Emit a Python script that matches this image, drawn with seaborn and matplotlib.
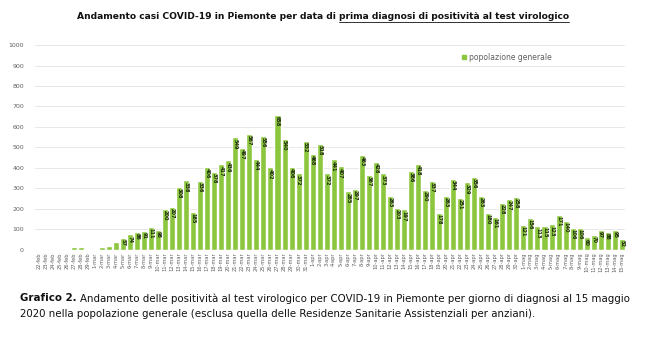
import matplotlib
matplotlib.use('Agg')
import pandas as pd
import seaborn as sns
from matplotlib import pyplot as plt
from matplotlib.lines import Line2D

# daily positives, popolazione generale (22-feb .. 15-mag)
days = ([f'{d}-feb' for d in range(22, 30)] + [f'{d}-mar' for d in range(1, 32)]
        + [f'{d}-apr' for d in range(1, 31)] + [f'{d}-mag' for d in range(1, 16)])
cases = [2, 1, 1, 2, 3, 12, 12, 4, 2, 12, 19, 38, 57, 74, 86, 91, 111, 98, 200, 207,
         308, 338, 185, 336, 406, 378, 417, 436, 549, 497, 567, 444, 556, 402, 658, 540,
         406, 372, 532, 468, 518, 372, 441, 407, 285, 297, 463, 367, 428, 373, 263, 203,
         197, 386, 418, 290, 337, 178, 263, 344, 251, 329, 356, 263, 180, 161, 228, 247,
         258, 121, 156, 113, 115, 123, 171, 140, 106, 106, 60, 70, 97, 88, 95, 52]
series_name = 'popolazione generale'

df = pd.DataFrame({'giorno': days, 'casi': cases})
green = '#8cc63f'

sns.set_style('white')
plt.rcParams['font.family'] = ['DejaVu Sans']

fig = plt.figure(figsize=(6.5, 3.52), dpi=100)
ax = fig.add_axes([0.054, 0.291, 0.908, 0.581])
sns.barplot(data=df, x='giorno', y='casi', color=green, width=0.86, saturation=1, ax=ax)

ax.set_xlim(-0.5, len(days) - 0.5)
ax.set_ylim(0, 1000)
ax.set_yticks(range(0, 1001, 100))
ax.yaxis.grid(True, color='#e4e4e4', linewidth=0.6)
ax.set_axisbelow(True)
for s in ax.spines.values():
    s.set_visible(False)
ax.axhline(0, color='#d0d0d0', linewidth=0.6)
ax.set_xlabel('')
ax.set_ylabel('')
ax.tick_params(axis='y', labelsize=4.5, colors='#606060', length=0, pad=8)
ax.tick_params(axis='x', labelsize=3.7, colors='#606060', length=0, pad=2, rotation=90)

# value labels inside bars
for i, v in enumerate(cases):
    if v >= 50:
        ax.text(i, v - 6, str(v), rotation=270, ha='center', va='top',
                fontsize=3.6, fontweight='bold', color='#1e2a10')

handle = Line2D([], [], marker='s', linestyle='', color=green, markersize=3.5)
ax.legend([handle], [series_name], loc='center left', bbox_to_anchor=(0.712, 0.94),
          frameon=False, fontsize=5.5, handlelength=0.6, handletextpad=0.3,
          labelcolor='#606060')

fig.canvas.draw()
r = fig.canvas.get_renderer()
W = fig.bbox.width
H = fig.bbox.height

# title with underlined second part
part1 = 'Andamento casi COVID-19 in Piemonte per data di '
part2 = 'prima diagnosi di positività al test virologico'
t1 = fig.text(0, 0.952, part1, fontsize=6.6, fontweight='bold', color='#111111', va='center')
t2 = fig.text(0, 0.952, part2, fontsize=6.6, fontweight='bold', color='#111111', va='center')
w1 = t1.get_window_extent(r).width
w2 = t2.get_window_extent(r).width
x0 = (323 - (w1 + w2) / 2) / W
t1.set_x(x0)
t2.set_x(x0 + w1 / W)
bb = t2.get_window_extent(r)
fig.add_artist(Line2D([bb.x0 / W, bb.x1 / W], [(bb.y0 - 1) / H] * 2,
                      color='#111111', linewidth=0.6))

# caption
c0 = fig.text(20 / W, 0.152, 'Grafico 2.', fontsize=7.4, fontweight='bold', color='#111111', va='center')
wc = c0.get_window_extent(r).width
fig.text((20 + wc + 3) / W, 0.152, 'Andamento delle positività al test virologico per COVID-19 in Piemonte '
         'per giorno di diagnosi al 15 maggio', fontsize=7.4, color='#111111', va='center')
fig.text(20 / W, 0.107, '2020 nella popolazione generale (esclusa quella delle Residenze '
         'Sanitarie Assistenziali per anziani).', fontsize=7.4, color='#111111', va='center')

fig.savefig('out.png', dpi=100)
